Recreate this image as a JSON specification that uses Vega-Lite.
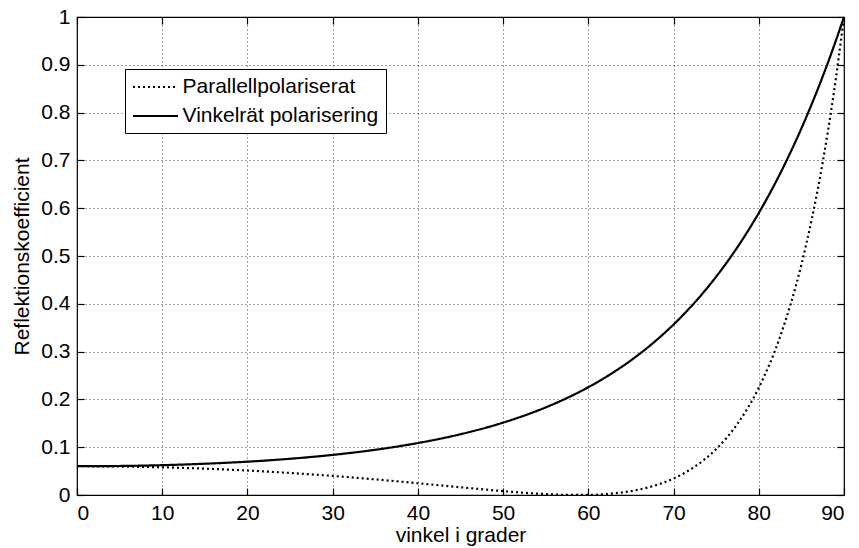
{
  "$schema": "https://vega.github.io/schema/vega-lite/v6.json",
  "width": 767,
  "height": 478,
  "autosize": {"type": "none"},
  "padding": {"left": 77, "top": 17, "right": 15, "bottom": 53},
  "background": "white",
  "config": {
    "view": {"stroke": "black", "strokeWidth": 1.2},
    "font": "Liberation Sans",
    "axis": {
      "labelFont": "Liberation Sans",
      "titleFont": "Liberation Sans",
      "labelFontSize": 21,
      "titleFontSize": 21,
      "labelColor": "black",
      "titleColor": "black",
      "titleFontWeight": "normal",
      "labelOverlap": false,
      "domain": false,
      "tickColor": "black",
      "tickSize": -7,
      "tickWidth": 1.2,
      "gridColor": "black",
      "gridOpacity": 0.75,
      "gridDash": [1, 3],
      "gridWidth": 1
    }
  },
  "data": {
    "values": [
      {"vinkel": 0, "serie": "Parallellpolariserat", "R": 0.0602},
      {"vinkel": 5, "serie": "Parallellpolariserat", "R": 0.0596},
      {"vinkel": 10, "serie": "Parallellpolariserat", "R": 0.0579},
      {"vinkel": 15, "serie": "Parallellpolariserat", "R": 0.0551},
      {"vinkel": 20, "serie": "Parallellpolariserat", "R": 0.0512},
      {"vinkel": 25, "serie": "Parallellpolariserat", "R": 0.0461},
      {"vinkel": 30, "serie": "Parallellpolariserat", "R": 0.0399},
      {"vinkel": 35, "serie": "Parallellpolariserat", "R": 0.0327},
      {"vinkel": 40, "serie": "Parallellpolariserat", "R": 0.0246},
      {"vinkel": 45, "serie": "Parallellpolariserat", "R": 0.0162},
      {"vinkel": 50, "serie": "Parallellpolariserat", "R": 0.0081},
      {"vinkel": 55, "serie": "Parallellpolariserat", "R": 0.0019},
      {"vinkel": 57.5, "serie": "Parallellpolariserat", "R": 0.0002},
      {"vinkel": 60, "serie": "Parallellpolariserat", "R": 0.0002},
      {"vinkel": 62.5, "serie": "Parallellpolariserat", "R": 0.0026},
      {"vinkel": 65, "serie": "Parallellpolariserat", "R": 0.0081},
      {"vinkel": 67.5, "serie": "Parallellpolariserat", "R": 0.0182},
      {"vinkel": 70, "serie": "Parallellpolariserat", "R": 0.0345},
      {"vinkel": 72.5, "serie": "Parallellpolariserat", "R": 0.0594},
      {"vinkel": 75, "serie": "Parallellpolariserat", "R": 0.0961},
      {"vinkel": 77.5, "serie": "Parallellpolariserat", "R": 0.149},
      {"vinkel": 80, "serie": "Parallellpolariserat", "R": 0.2244},
      {"vinkel": 82.5, "serie": "Parallellpolariserat", "R": 0.3312},
      {"vinkel": 85, "serie": "Parallellpolariserat", "R": 0.4821},
      {"vinkel": 87.5, "serie": "Parallellpolariserat", "R": 0.6958},
      {"vinkel": 88.75, "serie": "Parallellpolariserat", "R": 0.8343},
      {"vinkel": 90, "serie": "Parallellpolariserat", "R": 1.0},
      {"vinkel": 0, "serie": "Vinkelrät polarisering", "R": 0.0602},
      {"vinkel": 5, "serie": "Vinkelrät polarisering", "R": 0.0607},
      {"vinkel": 10, "serie": "Vinkelrät polarisering", "R": 0.0624},
      {"vinkel": 15, "serie": "Vinkelrät polarisering", "R": 0.0654},
      {"vinkel": 20, "serie": "Vinkelrät polarisering", "R": 0.0697},
      {"vinkel": 25, "serie": "Vinkelrät polarisering", "R": 0.0758},
      {"vinkel": 30, "serie": "Vinkelrät polarisering", "R": 0.0839},
      {"vinkel": 35, "serie": "Vinkelrät polarisering", "R": 0.0946},
      {"vinkel": 40, "serie": "Vinkelrät polarisering", "R": 0.1087},
      {"vinkel": 45, "serie": "Vinkelrät polarisering", "R": 0.1271},
      {"vinkel": 50, "serie": "Vinkelrät polarisering", "R": 0.1514},
      {"vinkel": 55, "serie": "Vinkelrät polarisering", "R": 0.1833},
      {"vinkel": 57.5, "serie": "Vinkelrät polarisering", "R": 0.2029},
      {"vinkel": 60, "serie": "Vinkelrät polarisering", "R": 0.2255},
      {"vinkel": 62.5, "serie": "Vinkelrät polarisering", "R": 0.2516},
      {"vinkel": 65, "serie": "Vinkelrät polarisering", "R": 0.2817},
      {"vinkel": 67.5, "serie": "Vinkelrät polarisering", "R": 0.3165},
      {"vinkel": 70, "serie": "Vinkelrät polarisering", "R": 0.3567},
      {"vinkel": 72.5, "serie": "Vinkelrät polarisering", "R": 0.4031},
      {"vinkel": 75, "serie": "Vinkelrät polarisering", "R": 0.4567},
      {"vinkel": 77.5, "serie": "Vinkelrät polarisering", "R": 0.5186},
      {"vinkel": 80, "serie": "Vinkelrät polarisering", "R": 0.59},
      {"vinkel": 82.5, "serie": "Vinkelrät polarisering", "R": 0.6722},
      {"vinkel": 85, "serie": "Vinkelrät polarisering", "R": 0.7669},
      {"vinkel": 87.5, "serie": "Vinkelrät polarisering", "R": 0.8755},
      {"vinkel": 88.75, "serie": "Vinkelrät polarisering", "R": 0.9357},
      {"vinkel": 90, "serie": "Vinkelrät polarisering", "R": 1.0}
    ]
  },
  "layer": [
    {
      "mark": {"type": "line", "color": "black", "strokeWidth": 2.2, "interpolate": "monotone"},
      "encoding": {
        "x": {
          "field": "vinkel",
          "type": "quantitative",
          "scale": {"domain": [0, 90], "nice": false},
          "axis": {"title": "vinkel i grader", "values": [0, 10, 20, 30, 40, 50, 60, 70, 80, 90], "labelPadding": 14, "titlePadding": 1, "grid": true}
        },
        "y": {
          "field": "R",
          "type": "quantitative",
          "scale": {"domain": [0, 1], "nice": false},
          "axis": {"title": "Reflektionskoefficient", "values": [0, 0.1, 0.2, 0.3, 0.4, 0.5, 0.6, 0.7, 0.8, 0.9, 1], "format": "~g", "labelPadding": 14, "titlePadding": 8, "grid": true}
        },
        "strokeDash": {
          "field": "serie",
          "type": "nominal",
          "scale": {"domain": ["Parallellpolariserat", "Vinkelrät polarisering"], "range": [[2, 3], [1, 0]]},
          "legend": {
            "title": null,
            "orient": "none",
            "legendX": 48,
            "legendY": 52,
            "fillColor": "white",
            "strokeColor": "black",
            "padding": 7,
            "symbolType": "M-2.25,0H2.25",
            "symbolSize": 400,
            "symbolOffset": 12.5,
            "symbolStrokeWidth": 1.8,
            "symbolStrokeColor": "black",
            "labelFont": "Liberation Sans",
            "labelFontSize": 21,
            "labelColor": "black",
            "labelOffset": 16,
            "labelLimit": 400,
            "rowPadding": 8
          }
        }
      }
    },
    {
      "mark": {"type": "line", "opacity": 0},
      "encoding": {
        "x": {
          "field": "vinkel",
          "type": "quantitative",
          "scale": {"domain": [0, 90], "nice": false},
          "axis": {"orient": "top", "title": null, "labels": false, "grid": false, "values": [0, 10, 20, 30, 40, 50, 60, 70, 80, 90]}
        },
        "y": {
          "field": "R",
          "type": "quantitative",
          "scale": {"domain": [0, 1], "nice": false},
          "axis": {"orient": "right", "title": null, "labels": false, "grid": false, "values": [0, 0.1, 0.2, 0.3, 0.4, 0.5, 0.6, 0.7, 0.8, 0.9, 1]}
        }
      }
    }
  ],
  "resolve": {"axis": {"x": "independent", "y": "independent"}}
}
